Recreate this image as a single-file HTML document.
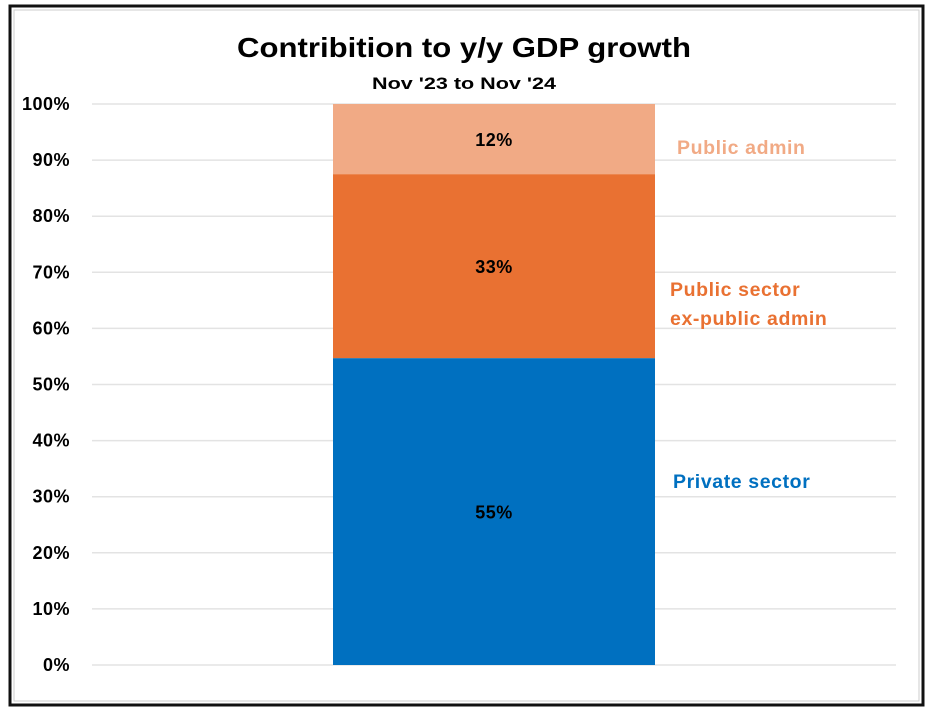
<!DOCTYPE html>
<html><head><meta charset="utf-8"><style>
body{margin:0;background:#fff;width:936px;height:718px;overflow:hidden}
text{font-family:"Liberation Sans",sans-serif;font-weight:bold}
</style></head><body>
<svg id="chart" width="936" height="718" xmlns="http://www.w3.org/2000/svg">
<rect x="10" y="6" width="913" height="699" fill="#fff" stroke="#111" stroke-width="3"/>
<rect x="14" y="10" width="905" height="691" fill="none" stroke="#ccc" stroke-width="1"/>
<text x="464" y="57" text-anchor="middle" font-size="28" textLength="454" lengthAdjust="spacingAndGlyphs" fill="#000">Contribition to y/y GDP growth</text>
<text x="464" y="89" text-anchor="middle" font-size="17" textLength="184" lengthAdjust="spacingAndGlyphs" fill="#000">Nov '23 to Nov '24</text>
<g id="grid"></g><g id="bars"></g><g id="labels"></g>
</svg>
<script>
const categories=["Private sector","Public sector ex-public admin","Public admin"];
const values=[54.7,32.8,12.5];
const valueLabels=["55%","33%","12%"];
const ticks=[0,10,20,30,40,50,60,70,80,90,100];
const tickLabels=["0%","10%","20%","30%","40%","50%","60%","70%","80%","90%","100%"];
const colors=["#0070C0","#E97132","#F1AA85"];
const NS="http://www.w3.org/2000/svg";
const y=v=>665-v*5.61;
function mk(t,a,p){const e=document.createElementNS(NS,t);for(const k in a)e.setAttribute(k,a[k]);p.appendChild(e);return e;}
const grid=document.getElementById('grid'),bars=document.getElementById('bars'),labels=document.getElementById('labels');
ticks.forEach((t,i)=>{
 const l=mk('line',{x1:92,x2:896,y1:y(t),y2:y(t),stroke:'#e3e3e3','stroke-width':1.5},grid);
 
 
 const tx=mk('text',{x:70,y:y(t)+6,'text-anchor':'end','font-size':18,fill:'#000','letter-spacing':0.5},grid);
 tx.textContent=tickLabels[i];
 
 
});
let cum=0;
const legendY=[[481],[289,318],[147]];
const legendLines=[["Private sector"],["Public sector","ex-public admin"],["Public admin"]];
values.forEach((v,i)=>{
 const r=mk('rect',{x:333,width:322,y:y(cum+v),height:y(cum)-y(cum+v),fill:colors[i]},bars);
 
 
 const t=mk('text',{x:494,y:(y(cum)+y(cum+v))/2+7,'text-anchor':'middle','font-size':18,fill:'#000','letter-spacing':0.5},labels);
 t.textContent=valueLabels[i];
 
 
 legendLines[i].forEach((s,j)=>{
  const L=mk('text',{x:i==2?677:(i==1?670:673),y:legendY[i][j]+7,'font-size':19.5,'letter-spacing':0.6,fill:colors[i]},labels);
  L.textContent=s;
  
  
 });
 cum+=v;
});
</script>
</body></html>
